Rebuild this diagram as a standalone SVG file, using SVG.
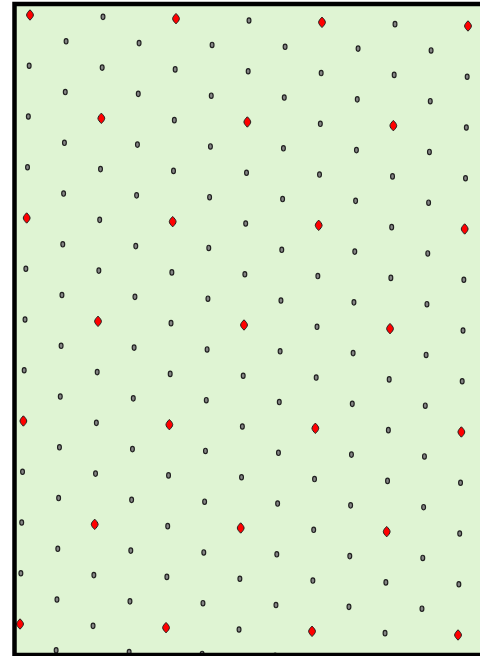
<svg xmlns="http://www.w3.org/2000/svg" width="480" height="656" viewBox="0 0 480 656">
<style>
.g{fill:#858585;stroke:#202020;stroke-width:1.2}
.r{fill:#ff0000;stroke:#202020;stroke-width:1}
</style>
<defs>
<ellipse id="d" class="g" cx="0" cy="0" rx="1.9" ry="2.7"/>
<path id="r" class="r" d="M0,-5.2 C1.8,-3.4 3.4,-1.6 3.4,0 C3.4,1.6 1.8,3.4 0,5.2 C-1.8,3.4 -3.4,1.6 -3.4,0 C-3.4,-1.6 -1.8,-3.4 0,-5.2Z"/>
</defs>
<rect x="0" y="0" width="480" height="656" fill="#ffffff"/>
<rect id="field" x="14.5" y="4" width="470" height="651" fill="#dff4d3"/>
<g id="lattice">
<g id="row0" transform="translate(30 15)"><use href="#r"/><use href="#d" x="73" y="1.83"/><use href="#r" x="146" y="3.66"/><use href="#d" x="219" y="5.49"/><use href="#r" x="292" y="7.32"/><use href="#d" x="365" y="9.15"/><use href="#r" x="438" y="10.98"/></g>
<g id="row0h" transform="translate(66.09 41.29)"><use href="#d"/><use href="#d" x="73" y="1.83"/><use href="#d" x="146" y="3.66"/><use href="#d" x="219" y="5.49"/><use href="#d" x="292" y="7.32"/><use href="#d" x="365" y="9.15"/></g>
<g id="row1" transform="translate(29.17 65.75)"><use href="#d"/><use href="#d" x="73" y="1.83"/><use href="#d" x="146" y="3.66"/><use href="#d" x="219" y="5.49"/><use href="#d" x="292" y="7.32"/><use href="#d" x="365" y="9.15"/><use href="#d" x="438" y="10.98"/></g>
<g id="row1h" transform="translate(65.26 92.04)"><use href="#d"/><use href="#d" x="73" y="1.83"/><use href="#d" x="146" y="3.66"/><use href="#d" x="219" y="5.49"/><use href="#d" x="292" y="7.32"/><use href="#d" x="365" y="9.15"/></g>
<g id="row2" transform="translate(28.34 116.5)"><use href="#d"/><use href="#r" x="73" y="1.83"/><use href="#d" x="146" y="3.66"/><use href="#r" x="219" y="5.49"/><use href="#d" x="292" y="7.32"/><use href="#r" x="365" y="9.15"/><use href="#d" x="438" y="10.98"/></g>
<g id="row2h" transform="translate(64.43 142.79)"><use href="#d"/><use href="#d" x="73" y="1.83"/><use href="#d" x="146" y="3.66"/><use href="#d" x="219" y="5.49"/><use href="#d" x="292" y="7.32"/><use href="#d" x="365" y="9.15"/></g>
<g id="row3" transform="translate(27.51 167.25)"><use href="#d"/><use href="#d" x="73" y="1.83"/><use href="#d" x="146" y="3.66"/><use href="#d" x="219" y="5.49"/><use href="#d" x="292" y="7.32"/><use href="#d" x="365" y="9.15"/><use href="#d" x="438" y="10.98"/></g>
<g id="row3h" transform="translate(63.6 193.54)"><use href="#d"/><use href="#d" x="73" y="1.83"/><use href="#d" x="146" y="3.66"/><use href="#d" x="219" y="5.49"/><use href="#d" x="292" y="7.32"/><use href="#d" x="365" y="9.15"/></g>
<g id="row4" transform="translate(26.68 218)"><use href="#r"/><use href="#d" x="73" y="1.83"/><use href="#r" x="146" y="3.66"/><use href="#d" x="219" y="5.49"/><use href="#r" x="292" y="7.32"/><use href="#d" x="365" y="9.15"/><use href="#r" x="438" y="10.98"/></g>
<g id="row4h" transform="translate(62.77 244.29)"><use href="#d"/><use href="#d" x="73" y="1.83"/><use href="#d" x="146" y="3.66"/><use href="#d" x="219" y="5.49"/><use href="#d" x="292" y="7.32"/><use href="#d" x="365" y="9.15"/></g>
<g id="row5" transform="translate(25.85 268.75)"><use href="#d"/><use href="#d" x="73" y="1.83"/><use href="#d" x="146" y="3.66"/><use href="#d" x="219" y="5.49"/><use href="#d" x="292" y="7.32"/><use href="#d" x="365" y="9.15"/><use href="#d" x="438" y="10.98"/></g>
<g id="row5h" transform="translate(61.94 295.04)"><use href="#d"/><use href="#d" x="73" y="1.83"/><use href="#d" x="146" y="3.66"/><use href="#d" x="219" y="5.49"/><use href="#d" x="292" y="7.32"/><use href="#d" x="365" y="9.15"/></g>
<g id="row6" transform="translate(25.02 319.5)"><use href="#d"/><use href="#r" x="73" y="1.83"/><use href="#d" x="146" y="3.66"/><use href="#r" x="219" y="5.49"/><use href="#d" x="292" y="7.32"/><use href="#r" x="365" y="9.15"/><use href="#d" x="438" y="10.98"/></g>
<g id="row6h" transform="translate(61.11 345.79)"><use href="#d"/><use href="#d" x="73" y="1.83"/><use href="#d" x="146" y="3.66"/><use href="#d" x="219" y="5.49"/><use href="#d" x="292" y="7.32"/><use href="#d" x="365" y="9.15"/></g>
<g id="row7" transform="translate(24.19 370.25)"><use href="#d"/><use href="#d" x="73" y="1.83"/><use href="#d" x="146" y="3.66"/><use href="#d" x="219" y="5.49"/><use href="#d" x="292" y="7.32"/><use href="#d" x="365" y="9.15"/><use href="#d" x="438" y="10.98"/></g>
<g id="row7h" transform="translate(60.28 396.54)"><use href="#d"/><use href="#d" x="73" y="1.83"/><use href="#d" x="146" y="3.66"/><use href="#d" x="219" y="5.49"/><use href="#d" x="292" y="7.32"/><use href="#d" x="365" y="9.15"/></g>
<g id="row8" transform="translate(23.36 421)"><use href="#r"/><use href="#d" x="73" y="1.83"/><use href="#r" x="146" y="3.66"/><use href="#d" x="219" y="5.49"/><use href="#r" x="292" y="7.32"/><use href="#d" x="365" y="9.15"/><use href="#r" x="438" y="10.98"/></g>
<g id="row8h" transform="translate(59.45 447.29)"><use href="#d"/><use href="#d" x="73" y="1.83"/><use href="#d" x="146" y="3.66"/><use href="#d" x="219" y="5.49"/><use href="#d" x="292" y="7.32"/><use href="#d" x="365" y="9.15"/></g>
<g id="row9" transform="translate(22.53 471.75)"><use href="#d"/><use href="#d" x="73" y="1.83"/><use href="#d" x="146" y="3.66"/><use href="#d" x="219" y="5.49"/><use href="#d" x="292" y="7.32"/><use href="#d" x="365" y="9.15"/><use href="#d" x="438" y="10.98"/></g>
<g id="row9h" transform="translate(58.62 498.04)"><use href="#d"/><use href="#d" x="73" y="1.83"/><use href="#d" x="146" y="3.66"/><use href="#d" x="219" y="5.49"/><use href="#d" x="292" y="7.32"/><use href="#d" x="365" y="9.15"/></g>
<g id="row10" transform="translate(21.7 522.5)"><use href="#d"/><use href="#r" x="73" y="1.83"/><use href="#d" x="146" y="3.66"/><use href="#r" x="219" y="5.49"/><use href="#d" x="292" y="7.32"/><use href="#r" x="365" y="9.15"/><use href="#d" x="438" y="10.98"/></g>
<g id="row10h" transform="translate(57.79 548.79)"><use href="#d"/><use href="#d" x="73" y="1.83"/><use href="#d" x="146" y="3.66"/><use href="#d" x="219" y="5.49"/><use href="#d" x="292" y="7.32"/><use href="#d" x="365" y="9.15"/></g>
<g id="row11" transform="translate(20.87 573.25)"><use href="#d"/><use href="#d" x="73" y="1.83"/><use href="#d" x="146" y="3.66"/><use href="#d" x="219" y="5.49"/><use href="#d" x="292" y="7.32"/><use href="#d" x="365" y="9.15"/><use href="#d" x="438" y="10.98"/></g>
<g id="row11h" transform="translate(56.96 599.54)"><use href="#d"/><use href="#d" x="73" y="1.83"/><use href="#d" x="146" y="3.66"/><use href="#d" x="219" y="5.49"/><use href="#d" x="292" y="7.32"/><use href="#d" x="365" y="9.15"/></g>
<g id="row12" transform="translate(20.04 624)"><use href="#r"/><use href="#d" x="73" y="1.83"/><use href="#r" x="146" y="3.66"/><use href="#d" x="219" y="5.49"/><use href="#r" x="292" y="7.32"/><use href="#d" x="365" y="9.15"/><use href="#r" x="438" y="10.98"/></g>
<g id="row12h" transform="translate(56.13 650.29)"><use href="#d"/><use href="#d" x="73" y="1.83"/><use href="#d" x="146" y="3.66"/><use href="#d" x="219" y="5.49"/><use href="#d" x="292" y="7.32"/><use href="#d" x="365" y="9.15"/></g>
</g>
<rect id="border" x="14.5" y="4" width="470" height="651" fill="none" stroke="#000000" stroke-width="4.5"/>
</svg>
